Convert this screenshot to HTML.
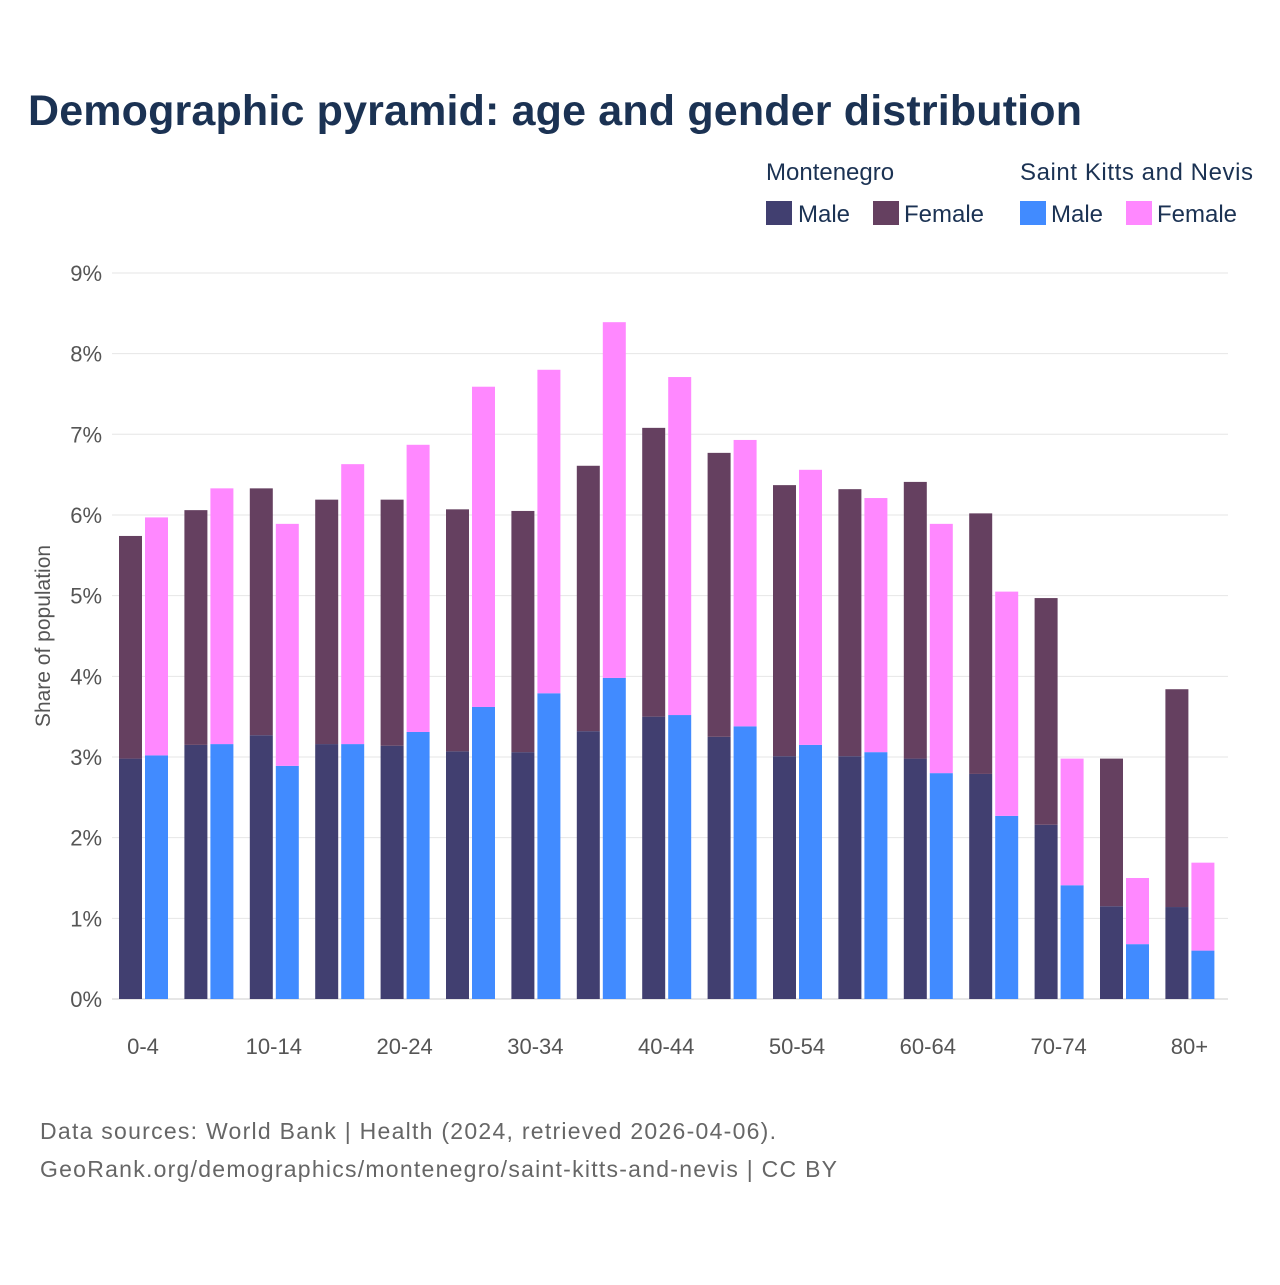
<!DOCTYPE html>
<html><head><meta charset="utf-8">
<style>
body{margin:0;background:#fff;font-family:"Liberation Sans",sans-serif;}
svg text{font-family:"Liberation Sans",sans-serif;}
</style></head>
<body>
<svg id="chart" width="1280" height="1280" viewBox="0 0 1280 1280" xmlns="http://www.w3.org/2000/svg">
<rect width="1280" height="1280" fill="#fff"/>
<text x="28" y="125" font-size="43" font-weight="bold" fill="#1b3253" textLength="1054">Demographic pyramid: age and gender distribution</text>
<g>
<text x="766" y="180" font-size="24" fill="#1b3253">Montenegro</text>
<text x="1020" y="180" font-size="24" fill="#1b3253" textLength="233">Saint Kitts and Nevis</text>
<rect x="766" y="201" width="26" height="24" fill="#413f70"/>
<text x="798" y="222" font-size="24" fill="#1b3253">Male</text>
<rect x="873" y="201" width="26" height="24" fill="#654060"/>
<text x="904" y="222" font-size="24" fill="#1b3253">Female</text>
<rect x="1020" y="201" width="26" height="24" fill="#418bff"/>
<text x="1051" y="222" font-size="24" fill="#1b3253">Male</text>
<rect x="1126" y="201" width="26" height="24" fill="#ff88ff"/>
<text x="1157" y="222" font-size="24" fill="#1b3253">Female</text>
</g>
<text transform="translate(50,636) rotate(-90)" text-anchor="middle" font-size="21" fill="#555">Share of population</text>
<g id="grid"></g>
<g id="bars"></g>
<g id="xlabels"></g>
<text x="40" y="1139" font-size="23" fill="#666" textLength="736">Data sources: World Bank | Health (2024, retrieved 2026-04-06).</text>
<text x="40" y="1177" font-size="23" fill="#666" textLength="797">GeoRank.org/demographics/montenegro/saint-kitts-and-nevis | CC BY</text>
</svg>
<script>
const categories=["0-4","5-9","10-14","15-19","20-24","25-29","30-34","35-39","40-44","45-49","50-54","55-59","60-64","65-69","70-74","75-79","80+"];
const mneMale=[2.98,3.15,3.27,3.16,3.14,3.07,3.06,3.32,3.50,3.25,3.01,3.01,2.98,2.79,2.16,1.15,1.14];
const mneFemale=[2.76,2.91,3.06,3.03,3.05,3.00,2.99,3.29,3.58,3.52,3.36,3.31,3.43,3.23,2.81,1.83,2.70];
const sknMale=[3.02,3.16,2.89,3.16,3.31,3.62,3.79,3.98,3.52,3.38,3.15,3.06,2.80,2.27,1.41,0.68,0.60];
const sknFemale=[2.95,3.17,3.00,3.47,3.56,3.97,4.01,4.41,4.19,3.55,3.41,3.15,3.09,2.78,1.57,0.82,1.09];
const yTicks=[0,1,2,3,4,5,6,7,8,9];
const NS="http://www.w3.org/2000/svg";
const y0=999,pxPer=80.67;
const y=v=>y0-v*pxPer;
const x=i=>143+i*65.4;
function mk(tag,attrs,parent){const e=document.createElementNS(NS,tag);for(const k in attrs)e.setAttribute(k,attrs[k]);parent.appendChild(e);return e;}
const grid=document.getElementById('grid');
yTicks.forEach(t=>{
  const l=mk('line',{x1:112,x2:1228,y1:y(t),y2:y(t),stroke:t===0?'#ccc':'#e6e6e6','stroke-width':1},grid);
  
  
  const tx=mk('text',{x:102,y:y(t)+8,'text-anchor':'end','font-size':22,fill:'#555'},grid);
  tx.textContent=t+'%';
  
  
});
const bars=document.getElementById('bars');
function bar(cx,v0,v1,col,name){
  const r=mk('rect',{x:cx,y:y(v1),width:23,height:y(v0)-y(v1),fill:col},bars);
  
  
}
categories.forEach((c,i)=>{
  const cx=x(i);
  bar(cx-24,0,mneMale[i],'#413f70','bar-mne-male-'+c);
  bar(cx-24,mneMale[i],mneMale[i]+mneFemale[i],'#654060','bar-mne-female-'+c);
  bar(cx+2,0,sknMale[i],'#418bff','bar-skn-male-'+c);
  bar(cx+2,sknMale[i],sknMale[i]+sknFemale[i],'#ff88ff','bar-skn-female-'+c);
  if(i%2===0){
    const t=mk('text',{x:cx,y:1054,'text-anchor':'middle','font-size':22,fill:'#555'},document.getElementById('xlabels'));
    t.textContent=c;
    
    
  }
});
</script>
</body></html>
